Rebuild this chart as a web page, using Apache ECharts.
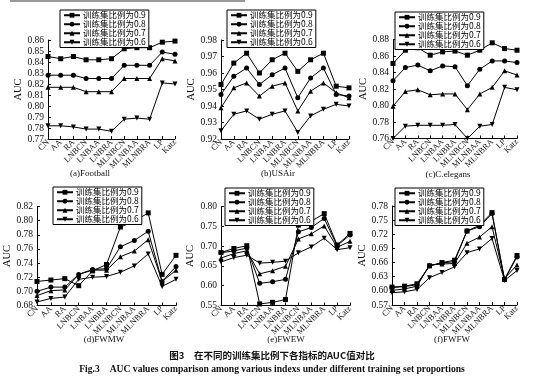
<!DOCTYPE html>
<html><head><meta charset="utf-8">
<script src="https://cdn.jsdelivr.net/npm/echarts@6/dist/echarts.min.js"></script>
<style>html,body{margin:0;padding:0;background:#fff}#c{width:544px;height:383px}</style>
</head><body><div id="c"></div>
<script>
const categories = ['CN','AA','RA','LNBCN','LNBAA','LNBRA','MLNBCN','MLNBAA','MLNBRA','LP','Katz'];
const seriesNames = ['训练集比例为0.9','训练集比例为0.8','训练集比例为0.7','训练集比例为0.6'];

const footballData = [
  [0.845,0.843,0.845,0.842,0.842,0.843,0.852,0.853,0.853,0.858,0.859],
  [0.828,0.828,0.828,0.825,0.825,0.825,0.837,0.837,0.837,0.849,0.847],
  [0.817,0.817,0.817,0.813,0.813,0.813,0.825,0.825,0.825,0.843,0.841],
  [0.782,0.782,0.781,0.779,0.779,0.777,0.788,0.789,0.788,0.821,0.820]
];
const usairData = [
  [0.953,0.966,0.972,0.960,0.968,0.972,0.961,0.968,0.972,0.952,0.951],
  [0.947,0.958,0.963,0.953,0.959,0.963,0.945,0.957,0.963,0.947,0.946],
  [0.939,0.951,0.954,0.946,0.952,0.954,0.937,0.949,0.954,0.948,0.945],
  [0.925,0.935,0.937,0.932,0.935,0.937,0.924,0.934,0.938,0.941,0.940]
];
const celegansData = [
  [0.851,0.867,0.870,0.861,0.865,0.866,0.861,0.867,0.876,0.869,0.867],
  [0.830,0.846,0.849,0.842,0.848,0.847,0.824,0.844,0.854,0.854,0.852],
  [0.799,0.817,0.819,0.813,0.814,0.814,0.795,0.814,0.822,0.842,0.837],
  [0.760,0.775,0.776,0.776,0.776,0.777,0.760,0.775,0.777,0.822,0.819]
];
const fwmwData = [
  [0.714,0.716,0.718,0.708,0.729,0.738,0.791,0.799,0.811,0.724,0.751],
  [0.700,0.706,0.706,0.724,0.731,0.732,0.763,0.772,0.785,0.714,0.735],
  [0.694,0.701,0.702,0.724,0.730,0.730,0.749,0.757,0.773,0.714,0.730],
  [0.685,0.690,0.692,0.717,0.720,0.721,0.727,0.736,0.753,0.707,0.717]
];
const fwewData = [
  [0.684,0.694,0.701,0.554,0.558,0.565,0.753,0.763,0.782,0.703,0.732],
  [0.683,0.688,0.695,0.606,0.610,0.616,0.736,0.747,0.770,0.701,0.728],
  [0.670,0.681,0.688,0.630,0.638,0.649,0.718,0.731,0.751,0.697,0.712],
  [0.660,0.671,0.677,0.657,0.659,0.662,0.683,0.698,0.720,0.691,0.696]
];
const fwfwData = [
  [0.608,0.610,0.615,0.653,0.660,0.665,0.727,0.739,0.766,0.624,0.675],
  [0.607,0.609,0.613,0.653,0.659,0.662,0.727,0.736,0.764,0.624,0.672],
  [0.601,0.604,0.610,0.655,0.657,0.658,0.701,0.714,0.736,0.626,0.655],
  [0.596,0.598,0.603,0.628,0.639,0.651,0.681,0.689,0.711,0.622,0.643]
];
const panelTitles = ['(a)Football','(b)USAir','(c)C.elegans','(d)FWMW','(e)FWEW','(f)FWFW'];
const yMins = [0.77,0.92,0.76,0.68,0.55,0.57];
const yMaxs = [0.86,0.98,0.88,0.82,0.80,0.78];
const yIntervals = [0.01,0.01,0.02,0.02,0.05,0.03];
const captionCN = '图3　在不同的训练集比例下各指标的AUC值对比';
const captionEN = 'Fig.3　AUC values comparison among various indexs under different training set proportions';

const panels = [footballData, usairData, celegansData, fwmwData, fwewData, fwfwData];
const grids = [
  {left:48, top:40, width:127, height:99},
  {left:221, top:40, width:128, height:99},
  {left:393, top:39.5, width:124, height:99},
  {left:37, top:206.5, width:139, height:99},
  {left:221, top:206.5, width:129, height:99},
  {left:392, top:206, width:125, height:99}
];
const legendPos = [[60,10],[227,10],[395,12],[53,187],[225,188],[395,188]];
const nameGaps = [22,24,22,10,25,24];
const titlePos = [[90,174],[278,174],[448,175],[104,340],[286,340],[452,340]];
const symbols = ['rect','circle','triangle','triangle'];
const rotates = [0,0,0,180];
const serif = '"Liberation Serif","Times New Roman",serif';

const graphics = [{type:'line', shape:{x1:10,y1:1,x2:245,y2:1}, style:{stroke:'#999',lineWidth:2}}];
panelTitles.forEach((t,i)=>graphics.push({type:'text', x:titlePos[i][0], y:titlePos[i][1],
  style:{text:t, textAlign:'center', textVerticalAlign:'middle', fontSize:9, fill:'#111', fontFamily:serif}}));
graphics.push({type:'text', x:272, y:355, style:{text:captionCN, textAlign:'center', textVerticalAlign:'middle',
  fontSize:9.5, fontWeight:'bold', fill:'#111', fontFamily:'"Noto Sans CJK SC",sans-serif'}});
graphics.push({type:'text', x:272, y:370, style:{text:captionEN, textAlign:'center', textVerticalAlign:'middle',
  fontSize:9.6, fontWeight:'bold', fill:'#111', fontFamily:serif}});

const option = {
  backgroundColor:'#fff',
  animation:false,
  grid: grids,
  xAxis: grids.map((g,i)=>({
    type:'category', gridIndex:i, data:categories, boundaryGap:false,
    axisLine:{lineStyle:{color:'#000',width:1}},
    axisTick:{inside:true,length:3,lineStyle:{color:'#000'}},
    axisLabel:{rotate:45, fontSize:8.5, color:'#111', fontFamily:serif, margin:2, interval:0}
  })),
  yAxis: grids.map((g,i)=>({
    type:'value', gridIndex:i, min:yMins[i], max:yMaxs[i], interval:yIntervals[i],
    name:'AUC', nameLocation:'middle', nameRotate:90, nameGap:nameGaps[i],
    nameTextStyle:{fontSize:10.5, color:'#111', fontFamily:serif},
    splitLine:{show:false},
    axisLine:{show:true,lineStyle:{color:'#000',width:1}},
    axisTick:{show:true,inside:true,length:3,lineStyle:{color:'#000'}},
    axisLabel:{fontSize:9.5, color:'#111', fontFamily:serif, margin:4,
      formatter:v=>v.toFixed(2)}
  })),
  legend: legendPos.map((p,i)=>({
    left:p[0], top:p[1], orient:'vertical', itemGap:0.5, itemWidth:16, itemHeight:6,
    padding:[1,3,1,3], borderColor:'#000', borderWidth:1, backgroundColor:'#fff',
    data:seriesNames, selectedMode:false,
    textStyle:{fontSize:8.5, color:'#000', fontFamily:'"Noto Sans CJK SC",sans-serif', padding:[0,0,0,-2]}
  })),
  graphic: graphics,
  series: []
};
panels.forEach((data,pi)=>{
  data.forEach((vals,si)=>{
    option.series.push({
      type:'line', name:seriesNames[si], xAxisIndex:pi, yAxisIndex:pi, data:vals,
      symbol:symbols[si], symbolRotate:rotates[si], symbolSize:5, showAllSymbol:true,
      lineStyle:{color:'#000',width:1}, itemStyle:{color:'#000'},
      emphasis:{disabled:true}
    });
  });
});
const chart = echarts.init(document.getElementById('c'), null, {renderer:'canvas'});
chart.setOption(option);
</script></body></html>
